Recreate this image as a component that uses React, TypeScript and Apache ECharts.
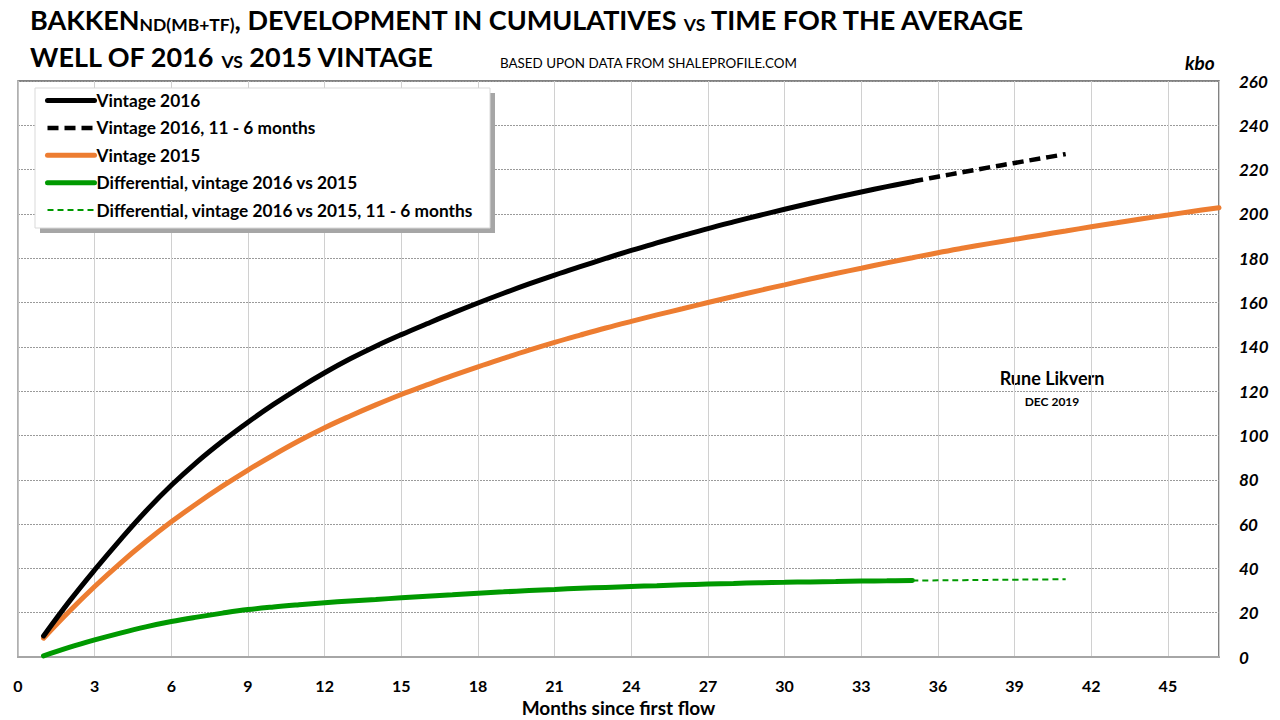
import React, { useEffect, useRef } from 'react';
import * as echarts from 'echarts';

// Vintage 2016, months 1..35
const vintage2016 = [
  9.5, 25, 39.3, 52.9, 65.8, 77.5, 88, 97.4, 106, 114,
  121.4, 128.3, 134.6, 140.3, 145.5, 150.4, 155.2, 159.8, 164.2, 168.4,
  172.4, 176.2, 179.9, 183.5, 186.9, 190.2, 193.4, 196.4, 199.3, 202.1,
  204.8, 207.4, 209.9, 212.3, 214.6,
];
// Vintage 2016, 11 - 6 months: months 35..41
const vintage2016Ext = [214.6, 216.8, 218.9, 221.0, 223.0, 225.0, 227.0];
// Vintage 2015, months 1..47
const vintage2015 = [
  8.5, 20.5, 31.8, 42.3, 52, 61, 69.3, 77.1, 84.4, 91.2,
  97.6, 103.5, 108.8, 113.8, 118.5, 122.8, 127, 131, 134.8, 138.5,
  142, 145.3, 148.5, 151.5, 154.4, 157.2, 160, 162.7, 165.4, 168,
  170.6, 173.1, 175.5, 177.9, 180.2, 182.5, 184.6, 186.6, 188.5, 190.4,
  192.3, 194.2, 196, 197.8, 199.5, 201.2, 202.8,
];
// Differential, months 1..35
const differential = [
  0.5, 4.3, 7.7, 10.8, 13.6, 16.0, 18.0, 19.8, 21.4, 22.6,
  23.6, 24.5, 25.3, 26.0, 26.7, 27.4, 28.1, 28.8, 29.4, 30.0,
  30.5, 31.0, 31.4, 31.8, 32.2, 32.6, 32.9, 33.2, 33.5, 33.7,
  33.9, 34.1, 34.3, 34.4, 34.5,
];
// Differential, 11 - 6 months: months 35..41
const differentialExt = [34.5, 34.6, 34.7, 34.8, 34.9, 35.0, 35.1];

const seriesNames = [
  'Vintage 2016',
  'Vintage 2016, 11 - 6 months',
  'Vintage 2015',
  'Differential, vintage 2016 vs 2015',
  'Differential, vintage 2016 vs 2015, 11 - 6 months',
];

const FONT = 'Lato, "Noto Sans", sans-serif';

const pairs = (arr: number[], start: number) => arr.map((v, i) => [start + i, v]);

export default function App() {
  const ref = useRef<HTMLDivElement>(null);
  useEffect(() => {
    if (!ref.current) return;
    const chart = echarts.init(ref.current, null, { renderer: 'svg' });
    const richTitle = {
      a: { fontFamily: FONT, fontWeight: 'bold', fontSize: 27, fill: '#000', verticalAlign: 'bottom', lineHeight: 32 },
      b: { fontFamily: FONT, fontWeight: 'bold', fontSize: 17.5, fill: '#000', verticalAlign: 'bottom', lineHeight: 28 },
    };
    const option: any = {
      animation: false,
      backgroundColor: '#ffffff',
      grid: {
        left: 18,
        right: 61,
        top: 81,
        bottom: 63,
        show: true,
        borderColor: '#595959',
        borderWidth: 1.5,
        backgroundColor: 'transparent',
        containLabel: false,
        outerBoundsMode: 'none',
      },
      xAxis: {
        type: 'value',
        min: 0,
        max: 47,
        interval: 3,
        name: 'Months since first flow',
        nameLocation: 'middle',
        nameGap: 36,
        nameTextStyle: { fontFamily: FONT, fontWeight: 'bold', fontSize: 19, color: '#000' },
        axisLine: { show: true, lineStyle: { color: '#a6a6a6', width: 2 } },
        axisTick: { show: false },
        axisLabel: {
          margin: 20,
          fontFamily: FONT,
          fontWeight: 'bold',
          fontSize: 16,
          color: '#000',
          formatter: (v: number) => (v % 3 === 0 ? String(v) : ''),
        },
        splitLine: { show: true, lineStyle: { color: '#d0d0d0', width: 1, type: 'solid' } },
      },
      yAxis: {
        type: 'value',
        position: 'right',
        min: 0,
        max: 260,
        interval: 20,
        axisLine: { show: true, lineStyle: { color: '#bfbfbf', width: 1.5 } },
        axisTick: { show: false },
        axisLabel: {
          margin: 20,
          fontFamily: FONT,
          fontWeight: 'bold',
          fontStyle: 'italic',
          fontSize: 17,
          color: '#000',
        },
        splitLine: { show: true, lineStyle: { color: '#9a9a9a', width: 1, type: [2, 1] } },
      },
      legend: {
        orient: 'vertical',
        left: 45,
        top: 92,
        padding: 0,
        itemWidth: 47,
        itemHeight: 14,
        itemGap: 10.4,
        data: seriesNames,
        itemStyle: { opacity: 0 },
        lineStyle: { width: 'inherit' },
        textStyle: { fontFamily: FONT, fontWeight: 'bold', fontSize: 17.3, color: '#000', padding: [0, 0, 0, -3] },
        z: 5,
      },
      graphic: [
        {
          type: 'rect',
          z: 3,
          shape: { x: 40, y: 93, width: 455, height: 140 },
          style: { fill: '#a6a6a6' },
          silent: true,
        },
        {
          type: 'rect',
          z: 3,
          shape: { x: 35, y: 88, width: 455, height: 140 },
          style: { fill: '#ffffff', stroke: '#d9d9d9', lineWidth: 1 },
          silent: true,
        },
        {
          type: 'text',
          left: 30,
          top: 6,
          style: {
            text: '{a|BAKKEN}{b|ND(MB+TF)}{a|, DEVELOPMENT IN CUMULATIVES }{b|VS}{a| TIME FOR THE AVERAGE}',
            rich: richTitle,
          },
        },
        {
          type: 'text',
          left: 30,
          top: 43,
          style: {
            text: '{a|WELL OF 2016 }{b|VS}{a| 2015 VINTAGE}',
            rich: richTitle,
          },
        },
        {
          type: 'text',
          left: 500,
          top: 56,
          style: { text: 'BASED UPON DATA FROM SHALEPROFILE.COM', fontFamily: FONT, fontSize: 13.4, fill: '#000' },
        },
        {
          type: 'text',
          left: 1185,
          top: 53,
          style: { text: 'kbo', fontFamily: FONT, fontWeight: 'bold', fontStyle: 'italic', fontSize: 19, fill: '#000' },
        },
        {
          type: 'text',
          x: 1052,
          y: 378,
          style: {
            text: 'Rune Likvern',
            fontFamily: FONT,
            fontWeight: 'bold',
            fontSize: 18,
            fill: '#000',
            align: 'center',
            verticalAlign: 'middle',
          },
        },
        {
          type: 'text',
          x: 1052,
          y: 401,
          style: {
            text: 'DEC 2019',
            fontFamily: FONT,
            fontWeight: 'bold',
            fontSize: 12,
            fill: '#000',
            align: 'center',
            verticalAlign: 'middle',
          },
        },
      ],
      series: [
        {
          name: seriesNames[0],
          type: 'line',
          data: pairs(vintage2016, 1),
          symbol: 'none',
          smooth: 0.4,
          lineStyle: { color: '#000000', width: 5, cap: 'round' },
          itemStyle: { color: '#000000' },
          z: 4,
        },
        {
          name: seriesNames[1],
          type: 'line',
          data: pairs(vintage2016Ext, 35),
          symbol: 'none',
          smooth: 0.4,
          lineStyle: { color: '#000000', width: 4.5, type: [11, 6] },
          itemStyle: { color: '#000000' },
          z: 4,
        },
        {
          name: seriesNames[2],
          type: 'line',
          data: pairs(vintage2015, 1),
          symbol: 'none',
          smooth: 0.4,
          lineStyle: { color: '#ED7D31', width: 5, cap: 'round' },
          itemStyle: { color: '#ED7D31' },
          z: 3,
        },
        {
          name: seriesNames[3],
          type: 'line',
          data: pairs(differential, 1),
          symbol: 'none',
          smooth: 0.4,
          lineStyle: { color: '#009900', width: 5, cap: 'round' },
          itemStyle: { color: '#009900' },
          z: 4,
        },
        {
          name: seriesNames[4],
          type: 'line',
          data: pairs(differentialExt, 35),
          symbol: 'none',
          smooth: 0.4,
          lineStyle: { color: '#009900', width: 2, type: [6, 4] },
          itemStyle: { color: '#009900' },
          z: 4,
        },
      ],
    };
    chart.setOption(option);
    return () => chart.dispose();
  }, []);
  return (
    <div
      ref={ref}
      style={{ position: 'fixed', left: 0, top: 0, width: 1280, height: 720, background: '#fff' }}
    />
  );
}
